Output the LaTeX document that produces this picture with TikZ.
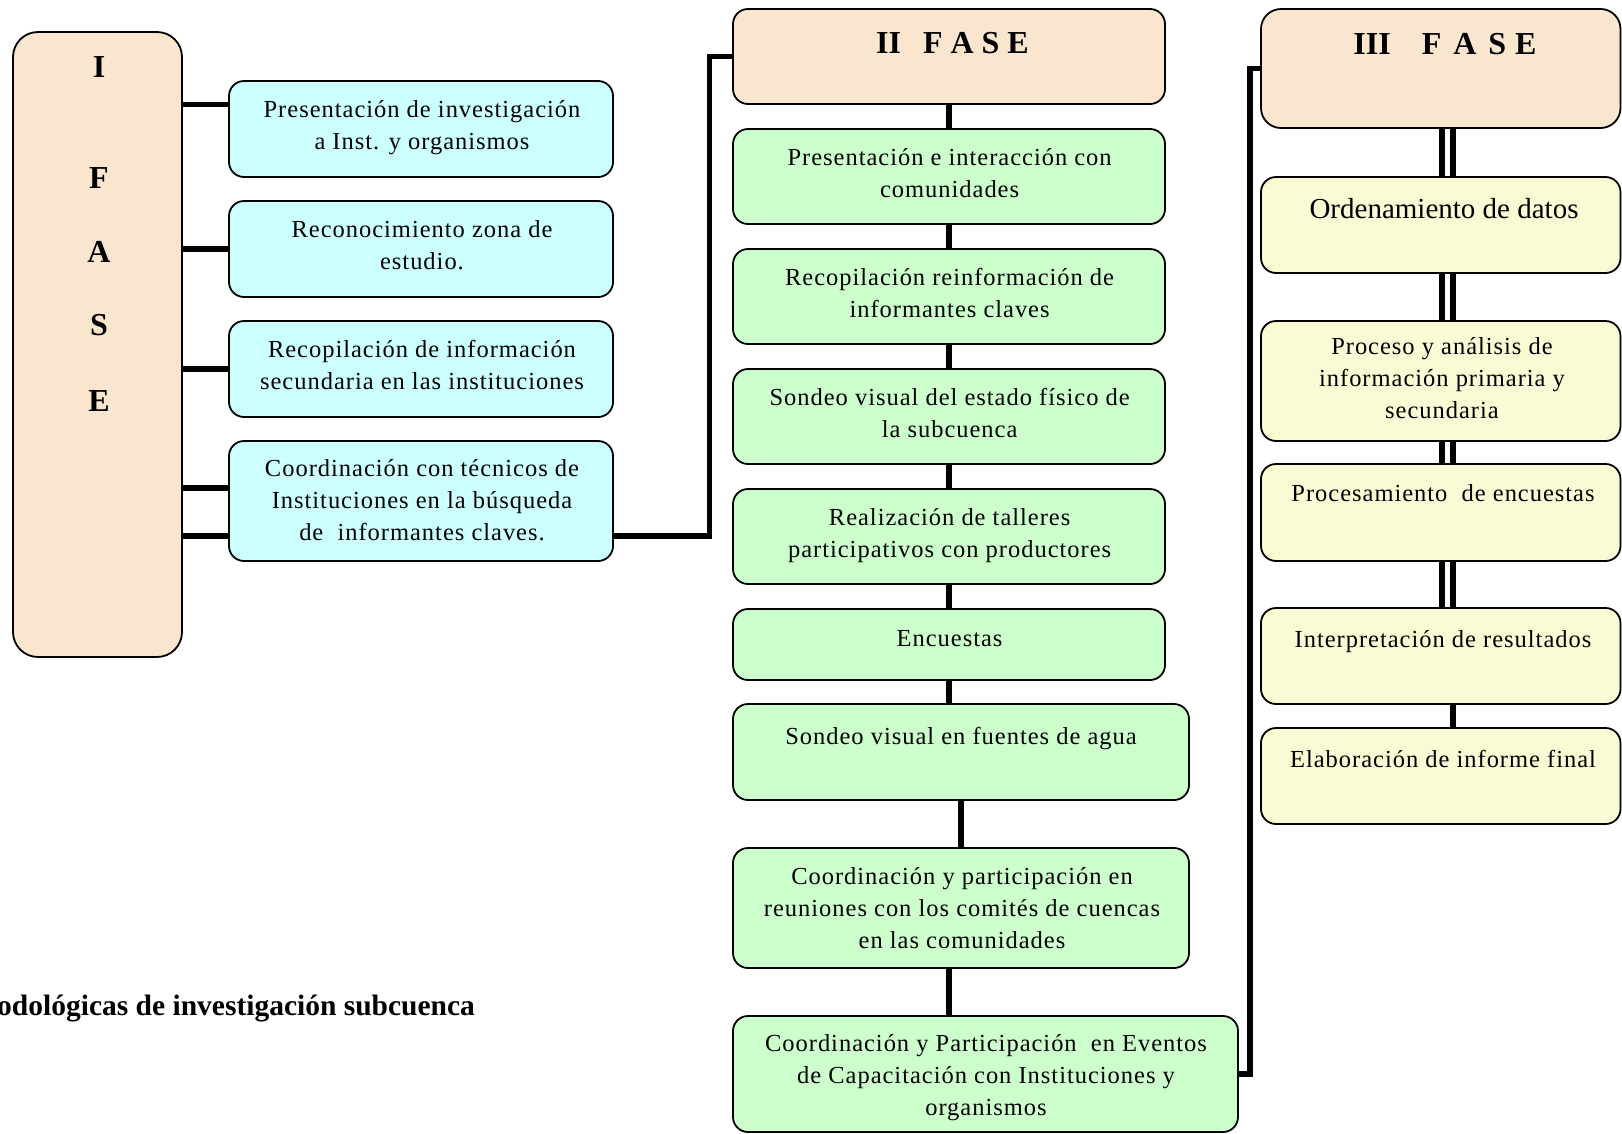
\documentclass[tikz,border=0pt]{standalone}
\usepackage{fontspec}
\setmainfont{Liberation Serif}
\newfontfamily\trackedserif[LetterSpace=4]{Liberation Serif}
\usetikzlibrary{calc}

\definecolor{phasefill}{RGB}{250,230,207}
\definecolor{stepblue}{RGB}{204,255,255}
\definecolor{stepgreen}{RGB}{204,255,204}
\definecolor{stepyellow}{RGB}{250,250,212}

\begin{document}
\begin{tikzpicture}[x=1pt,y=-1pt,
  card/.style={draw=black, line width=1.8pt, rounded corners=15pt, inner sep=0pt, outer sep=0pt},
  phasecard/.style={card, fill=phasefill},
  bluecard/.style={card, fill=stepblue},
  greencard/.style={card, fill=stepgreen},
  yellowcard/.style={card, fill=stepyellow},
  boxtext/.style={font=\trackedserif\fontsize{24.5}{32}\selectfont, align=center, inner sep=0pt,
    execute at begin node=\strut, execute at end node=\strut},
  phasetitle/.style={font=\fontsize{32}{38}\selectfont\bfseries, inner sep=0pt},
  link/.style={line width=5.5pt},
  twin/.style={line width=6pt},
]
\useasboundingbox (0,0) rectangle (1622,1133);

% ---------- Phase I ----------
\node[phasecard, rounded corners=25pt, minimum width=169pt, minimum height=625pt] (ph1) at (97.5,344.5) {};
\node[phasetitle] (ph1-i) at (99,67.5) {I};
\node[phasetitle] (ph1-f) at (99,178) {F};
\node[phasetitle] (ph1-a) at (99,252) {A};
\node[phasetitle] (ph1-s) at (99,325.5) {S};
\node[phasetitle] (ph1-e) at (99,401.5) {E};

\node[bluecard, minimum width=384pt, minimum height=96pt]  (b1) at (421,129) {};
\node[bluecard, minimum width=384pt, minimum height=96pt]  (b2) at (421,249) {};
\node[bluecard, minimum width=384pt, minimum height=96pt]  (b3) at (421,369) {};
\node[bluecard, minimum width=384pt, minimum height=120pt] (b4) at (421,501) {};

\node[boxtext] (b1-t) at (422,130.2) {Presentación de investigación\\a Inst. y organismos};
\node[boxtext] (b2-t) at (422,250.2) {Reconocimiento zona de\\estudio.};
\node[boxtext] (b3-t) at (422,370) {Recopilación de información\\secundaria en las instituciones};
\node[boxtext] (b4-t) at (422,504.5) {Coordinación con técnicos de\\Instituciones en la búsqueda\\de\ \ informantes claves.};

\coordinate (k1) at ([yshift=24.5pt]b1.west);
\coordinate (k4) at ([yshift=13pt]b4.west);
\coordinate (k5) at ([yshift=-35pt]b4.west);
\draw[link] (ph1.east |- k1) -- (k1);
\draw[link] (ph1.east |- b2.west) -- (b2.west);
\draw[link] (ph1.east |- b3.west) -- (b3.west);
\draw[link] (ph1.east |- k4) -- (k4);
\draw[link] (ph1.east |- k5) -- (k5);

% ---------- Phase II ----------
\node[phasecard, minimum width=432pt, minimum height=95pt] (ph2) at (949,56.5) {};
\node[phasetitle] (ph2-t) at (952.5,43) {II\hspace{22pt}F A S E};

\node[greencard, minimum width=432pt, minimum height=95pt]  (g1) at (949,176.5) {};
\node[greencard, minimum width=432pt, minimum height=95pt]  (g2) at (949,296.5) {};
\node[greencard, minimum width=432pt, minimum height=95pt]  (g3) at (949,416.5) {};
\node[greencard, minimum width=432pt, minimum height=95pt]  (g4) at (949,536.5) {};
\node[greencard, minimum width=432pt, minimum height=71pt]  (g5) at (949,644.5) {};
\node[greencard, minimum width=456pt, minimum height=96pt]  (g6) at (961,752) {};
\node[greencard, minimum width=456pt, minimum height=120pt] (g7) at (961,908) {};
\node[greencard, minimum width=505pt, minimum height=116pt] (g8) at (985.5,1074) {};

\node[boxtext] (g1-t) at (949.6,177.5) {Presentación e interacción con\\comunidades};
\node[boxtext] (g2-t) at (949.6,297.5) {Recopilación reinformación de\\informantes claves};
\node[boxtext] (g3-t) at (949.6,417.5) {Sondeo visual del estado físico de\\la subcuenca};
\node[boxtext] (g4-t) at (949.6,537.5) {Realización de talleres\\participativos con productores};
\node[boxtext] (g5-t) at (949.6,640.5) {Encuestas};
\node[boxtext] (g6-t) at (961,738) {Sondeo visual en fuentes de agua};
\node[boxtext] (g7-t) at (962,912.5) {Coordinación y participación en\\reuniones con los comités de cuencas\\en las comunidades};
\node[boxtext] (g8-t) at (986,1079.5) {Coordinación y Participación\ \ en Eventos\\de Capacitación con Instituciones y\\organismos};

\draw[link] ([yshift=-35pt]b4.east) -| ([xshift=-23.5pt]ph2.west) -- (ph2.west);
\draw[link] (ph2.south) -- (g1.north);
\draw[link] (g1.south) -- (g2.north);
\draw[link] (g2.south) -- (g3.north);
\draw[link] (g3.south) -- (g4.north);
\draw[link] (g4.south) -- (g5.north);
\draw[link] (g5.south) -- (g5.south |- g6.north);
\draw[link] (g6.south) -- (g7.north);
\draw[link] (g7.south -| g5.south) -- (g8.north -| g5.south);

% ---------- Phase III ----------
\node[phasecard, rounded corners=20pt, minimum width=359.5pt, minimum height=119pt] (ph3) at (1440.75,68.5) {};
\node[phasetitle] (ph3-t) at (1445,43.8) {III\hspace{31pt}F\hspace{12pt}A\hspace{12pt}S\hspace{9pt}E};

\node[yellowcard, minimum width=359.5pt, minimum height=96pt]  (y1) at (1440.75,225) {};
\node[yellowcard, minimum width=359.5pt, minimum height=120pt] (y2) at (1440.75,381) {};
\node[yellowcard, minimum width=359.5pt, minimum height=97pt]  (y3) at (1440.75,512.5) {};
\node[yellowcard, minimum width=359.5pt, minimum height=96pt]  (y4) at (1440.75,656) {};
\node[yellowcard, minimum width=359.5pt, minimum height=96pt]  (y5) at (1440.75,776) {};

\node[boxtext, font=\fontsize{29}{35}\selectfont] (y1-t) at (1444,211.3) {Ordenamiento de datos};
\node[boxtext] (y2-t) at (1442,383) {Proceso y análisis de\\información primaria y\\secundaria};
\node[boxtext] (y3-t) at (1443,495.5) {Procesamiento\ \ de encuestas};
\node[boxtext] (y4-t) at (1443,641.5) {Interpretación de resultados};
\node[boxtext] (y5-t) at (1443,761.5) {Elaboración de informe final};

\draw[link] (g8.east) -| ([xshift=-11pt]ph3.west) -- (ph3.west);
\foreach \a/\b in {ph3/y1, y1/y2, y2/y3, y3/y4} {
  \draw[twin] ([xshift=0.75pt]\a.south) -- ([xshift=0.75pt]\b.north);
  \draw[twin] ([xshift=12.25pt]\a.south) -- ([xshift=12.25pt]\b.north);
}
\draw[twin] ([xshift=12.25pt]y4.south) -- ([xshift=12.25pt]y5.north);

% ---------- caption fragment ----------
\node[font=\bfseries\fontsize{29.5}{35}\selectfont, anchor=base west, inner sep=0pt] (caption) at (-3,1015) {odológicas de investigación subcuenca};
\end{tikzpicture}
\end{document}
